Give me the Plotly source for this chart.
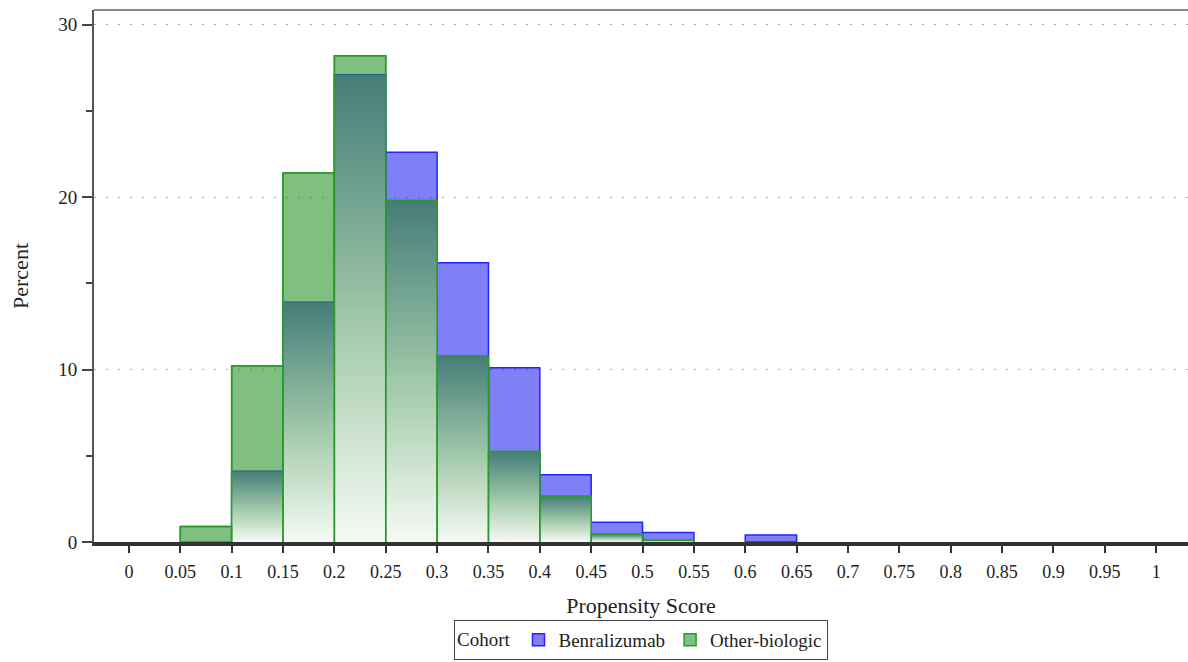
import plotly.graph_objects as go

# ---- data (percent of cohort per propensity-score bin) ----
bin_left = [0.05, 0.10, 0.15, 0.20, 0.25, 0.30, 0.35, 0.40, 0.45, 0.50, 0.55, 0.60]
benralizumab = [0.0, 4.1, 13.9, 27.1, 22.6, 16.2, 10.1, 3.9, 1.15, 0.55, 0.0, 0.4]
other_biologic = [0.9, 10.2, 21.4, 28.2, 19.8, 10.8, 5.25, 2.65, 0.45, 0.1, 0.0, 0.0]
bin_width = 0.05

x_tick_labels = ["0", "0.05", "0.1", "0.15", "0.2", "0.25", "0.3", "0.35", "0.4", "0.45", "0.5",
                 "0.55", "0.6", "0.65", "0.7", "0.75", "0.8", "0.85", "0.9", "0.95", "1"]
y_tick_labels = ["0", "10", "20", "30"]

FONT = "Liberation Serif, Times New Roman, serif"
BLUE_FILL = "rgba(0,0,240,0.5)"
BLUE_LINE = "#2424ff"
GREEN_FILL = "rgba(0,128,0,0.5)"
GREEN_LINE = "#2b9a2b"

fig = go.Figure()

fig.add_trace(go.Bar(
    x=bin_left, y=[v if v > 0 else None for v in benralizumab],
    width=bin_width, offset=0, name="Benralizumab",
    marker=dict(color=BLUE_FILL, line=dict(color=BLUE_LINE, width=1.5)),
))
fig.add_trace(go.Bar(
    x=bin_left, y=[v if v > 0 else None for v in other_biologic],
    width=bin_width, offset=0, name="Other-biologic",
    marker=dict(color=GREEN_FILL, line=dict(color=GREEN_LINE, width=1.5)),
))

# overlap region with vertical gradient
grad_scale = [[0.0, "#f6faf5"], [0.45, "#a4cbab"], [1.0, "#457d78"]]
for xl, b, g in zip(bin_left, benralizumab, other_biologic):
    ov = min(b, g)
    if ov <= 0:
        continue
    fig.add_trace(go.Scatter(
        x=[xl, xl + bin_width, xl + bin_width, xl, xl],
        y=[0, 0, ov, ov, 0],
        mode="lines", fill="toself",
        line=dict(width=0),
        fillgradient=dict(type="vertical", colorscale=grad_scale, start=0, stop=ov),
        showlegend=False, hoverinfo="skip",
    ))

# green outlines on top
ox, oy = [], []
for xl, g in zip(bin_left, other_biologic):
    if g <= 0:
        continue
    ox += [xl, xl, xl + bin_width, xl + bin_width, None]
    oy += [0, g, g, 0, None]
fig.add_trace(go.Scatter(x=ox, y=oy, mode="lines",
                         line=dict(color=GREEN_LINE, width=1.5),
                         showlegend=False, hoverinfo="skip"))

fig.update_layout(
    width=1188, height=662,
    margin=dict(l=94, r=0, t=10, b=120),
    paper_bgcolor="white", plot_bgcolor="white",
    barmode="overlay",
    font=dict(family=FONT, color="#222", size=18),
    showlegend=True,
    legend=dict(
        orientation="h", x=0.5, xanchor="center",
        yref="container", y=0.003, yanchor="bottom",
        title=dict(text="Cohort", side="left", font=dict(size=19)),
        font=dict(size=19), bordercolor="#444", borderwidth=1,
        itemwidth=30, traceorder="normal",
    ),
    xaxis=dict(
        range=[-0.034, 1.031], automargin=False,
        tickvals=[float(t) for t in x_tick_labels], ticktext=x_tick_labels,
        ticks="outside", ticklen=7, tickwidth=1.5, tickcolor="#333",
        ticklabelstandoff=4,
        showline=True, linecolor="#333", linewidth=3.5,
        showgrid=False, zeroline=False,
        tickfont=dict(size=18),
        title=dict(text="Propensity Score", font=dict(size=22), standoff=17),
    ),
    yaxis=dict(
        range=[0, 30.85], automargin=False,
        tickvals=[float(t) for t in y_tick_labels], ticktext=y_tick_labels,
        ticks="outside", ticklen=10, tickwidth=1.5, tickcolor="#444",
        minor=dict(dtick=5, ticks="outside", ticklen=6, tickwidth=1.5, tickcolor="#444", showgrid=False),
        showline=True, linecolor="#555", linewidth=2,
        showgrid=True, gridcolor="#a8a8a8", gridwidth=1, griddash="2px,10px",
        zeroline=False,
        ticklabelstandoff=1,
        tickfont=dict(size=19),
        title=dict(text="Percent", font=dict(size=22), standoff=24),
    ),
    shapes=[dict(type="line", xref="paper", yref="paper", x0=0, x1=1, y0=1, y1=1,
                 line=dict(color="#888", width=2))],
)

fig.write_html("out.html", config={"displayModeBar": False},
               post_script="document.body.style.margin='0';")
